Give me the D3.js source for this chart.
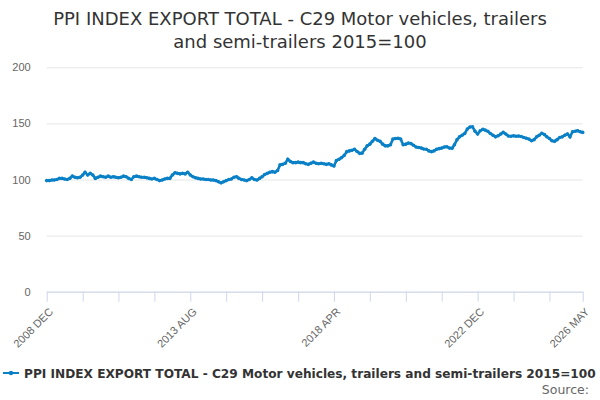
<!DOCTYPE html>
<html>
<head>
<meta charset="utf-8">
<script src="https://cdn.jsdelivr.net/npm/d3@7"></script>
<style>
  body { margin: 0; background: #fff; }
  svg { font-family: "DejaVu Sans", sans-serif; }
  .tick text { fill: #666; font-size: 11px; }
</style>
</head>
<body>
<svg id="chart" width="600" height="400"></svg>
<script>
(function () {
    var width = 600, height = 400

    // monthly values, Dec 2008 .. May 2026
    var startMonth = "2008-12"
    var values = [
        99,
        99, 99.5, 99.5, 100, 101, 101, 100.5, 100, 101, 103, 102, 101.5,          // 2009
        102, 104, 106.5, 104, 105.5, 104, 101, 102, 103, 102.5, 102, 103,          // 2010
        102, 102.5, 102, 101.5, 102, 103, 102.5, 101, 100, 102.5, 103, 102.5,      // 2011
        102, 102, 101.5, 101, 100.5, 101, 100, 99, 99.5, 100.5, 101, 101,          // 2012
        104, 106, 105.5, 105, 105.5, 105, 106.5, 104, 102.5, 101.5, 101, 100.5,    // 2013
        100.5, 100, 100, 99.5, 99.5, 99, 98, 97, 98, 99, 100, 100.5,               // 2014
        102, 102.5, 101, 100, 99.5, 99, 100, 101.5, 100, 99.5, 101, 102.5,         // 2015
        104.5, 105.5, 106.5, 107, 106.5, 108, 113, 113.5, 114.5, 118, 116, 115,    // 2016
        115, 115.5, 115, 115, 114, 113.5, 114.5, 115.5, 114.5, 114, 114.5, 114,    // 2017
        113.5, 114, 113, 112, 117, 118, 119.5, 121.5, 124.8, 125.5, 126, 127,      // 2018
        125, 123.3, 123.5, 127, 130, 131.5, 134, 136.5, 135, 134, 131.5, 130,      // 2019
        130, 131, 136, 136.5, 136.7, 136, 131, 131.5, 132.5, 132, 130.5, 129,      // 2020
        128.5, 128, 127.2, 127, 125.5, 124.8, 125.5, 127, 127.5, 128, 129, 129.2,  // 2021
        128, 127.8, 131, 135.5, 138, 139.5, 141, 145, 146.8, 147, 143, 140.5,      // 2022
        143.5, 144.7, 144, 143, 141, 139.5, 138, 139, 140.5, 142, 140.5, 138.8,    // 2023
        138.5, 139, 138.5, 138.8, 138.3, 137.5, 136.7, 136, 134.6, 135.5, 138, 139.5, // 2024
        141.2, 140, 138.1, 136.5, 134.5, 134, 135.5, 137.5, 138, 139.5, 140.6, 138,   // 2025
        142.6, 143, 143.5, 142.5, 142                                             // 2026
    ]
    var yTicks = [0, 50, 100, 150, 200]
    var labelEvery = 4      // label every 4th tick (ticks every 14 months)
    var monthNames = ["JAN", "FEB", "MAR", "APR", "MAY", "JUN", "JUL", "AUG", "SEP", "OCT", "NOV", "DEC"]
    var seriesName = "PPI INDEX EXPORT TOTAL - C29 Motor vehicles, trailers and semi-trailers 2015=100"
    var titleLines = ["PPI INDEX EXPORT TOTAL - C29 Motor vehicles, trailers", "and semi-trailers 2015=100"]

    var parse = d3.timeParse("%Y-%m")
    var t0 = parse(startMonth)
    var data = values.map((v, i) => ({ date: d3.timeMonth.offset(t0, i), value: v }))
    var last = data[data.length - 1].date

    var svg = d3.select("#chart")
    var left = 46.7, right = 582.7, top = 67.3, bottom = 291.7

    var x = d3.scaleTime().domain([t0, last]).range([left, right])
    var y = d3.scaleLinear().domain([0, 200]).range([bottom, top])

    // title
    svg.append("text")
        .attr("y", 25)
        .attr("text-anchor", "middle")
        .style("font-size", "18px")
        .style("fill", "#333")
        .selectAll("tspan")
        .data(titleLines)
        .join("tspan")
        .attr("x", width / 2)
        .attr("dy", (d, i) => i == 0 ? 0 : 23)
        .text(d => d)

    // grid + y labels
    svg.append("g")
        .attr("transform", `translate(${left},0)`)
        .call(d3.axisLeft(y).tickValues(yTicks).tickSize(-(right - left)).tickPadding(16))
        .call(g => g.select(".domain").remove())
        .call(g => g.selectAll(".tick line").attr("stroke", "#e6e6e6"))

    // x ticks every 14 months plus the last month
    var tickDates = []
    for (var i = 0; i < values.length; i += 14) tickDates.push(d3.timeMonth.offset(t0, i))
    tickDates.push(last)

    var fmt = d => d.getFullYear() + " " + monthNames[d.getMonth()]
    var xAxis = svg.append("g")
        .attr("transform", `translate(0,${bottom})`)
        .call(d3.axisBottom(x).tickValues(tickDates).tickSize(10).tickSizeOuter(0)
            .tickFormat((d, i) => (i % labelEvery == 0 || i == tickDates.length - 1) ? fmt(d) : ""))
    xAxis.select(".domain").attr("stroke", "#ccd6eb")
    xAxis.selectAll(".tick line").attr("stroke", "#ccd6eb")
    xAxis.selectAll(".tick text")
        .attr("text-anchor", "end")
        .attr("y", 0)
        .attr("dy", "0.35em")
        .attr("transform", "translate(4,18) rotate(-45)")

    // series
    var line = d3.line().x(d => x(d.date)).y(d => y(d.value))
    svg.append("path")
        .datum(data)
        .attr("fill", "none")
        .attr("stroke", "#0a80c6")
        .attr("stroke-width", 2.6)
        .attr("d", line)
    svg.append("g")
        .selectAll("circle")
        .data(data)
        .join("circle")
        .attr("cx", d => x(d.date))
        .attr("cy", d => y(d.value))
        .attr("r", 1.8)
        .attr("fill", "#0a80c6")

    // legend
    var leg = svg.append("g").attr("transform", "translate(3,373)")
    leg.append("line").attr("x1", 0).attr("x2", 16).attr("stroke", "#0a80c6").attr("stroke-width", 2)
    leg.append("circle").attr("cx", 8).attr("r", 2.2).attr("fill", "#0a80c6")
    leg.append("text")
        .attr("x", 21)
        .attr("y", 4.5)
        .style("font-size", "12.15px")
        .style("font-weight", "bold")
        .style("fill", "#333")
        .text(seriesName)

    svg.append("text")
        .attr("x", 589)
        .attr("y", 394)
        .attr("text-anchor", "end")
        .style("font-size", "12.5px")
        .style("fill", "#666")
        .text("Source:")
})();
</script>
</body>
</html>
